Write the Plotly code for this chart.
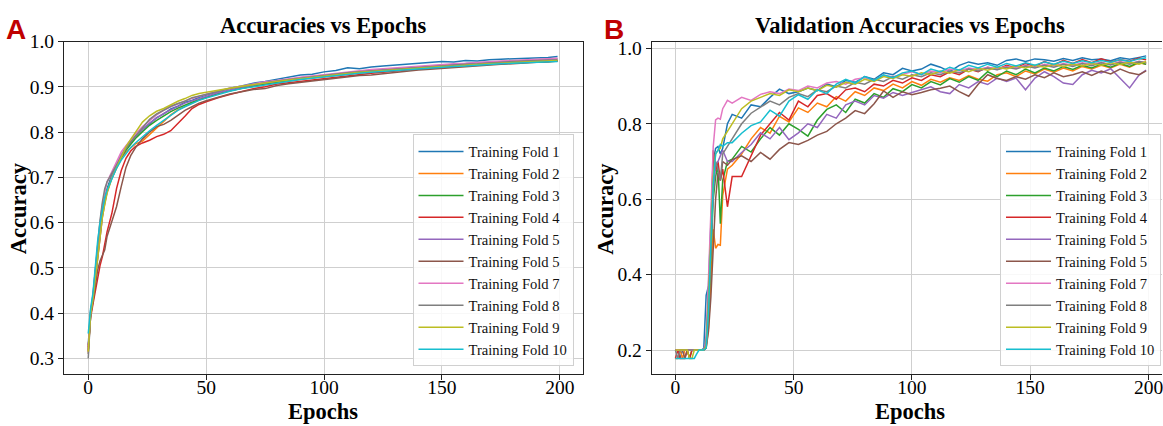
import plotly.graph_objects as go

# ---------------- data ----------------
train_epochs = [0, 1, 2, 3, 4, 5, 6, 7, 8, 10, 12, 14, 16, 18, 20, 23, 26, 29, 32, 35, 38, 41, 44, 47,
                50, 55, 60, 65, 70, 75, 80, 85, 90, 95, 100, 105, 110, 115, 120, 125, 130, 135, 140, 145,
                150, 155, 160, 165, 170, 175, 180, 185, 190, 195, 199]

train_fold1 = [.330, .405, .435, .490, .545, .590, .630, .655, .675, .705, .728, .748, .765, .776, .790,
               .806, .818, .832, .840, .851, .857, .866, .870, .877,
               .882, .889, .897, .902, .908, .912, .917, .921, .926, .928, .933, .936, .942, .940, .944,
               .946, .948, .949, .951, .953, .956, .955, .958, .957, .960, .961, .962, .962, .964, .965, .967]
train_fold2 = [.315, .398, .428, .478, .528, .575, .615, .645, .668, .698, .722, .742, .756, .766, .774,
               .780, .795, .810, .825, .838, .849, .857, .864, .871,
               .876, .885, .891, .897, .901, .906, .910, .913, .917, .920, .923, .926, .928, .931, .933,
               .935, .937, .939, .941, .942, .945, .946, .948, .949, .951, .952, .954, .955, .956, .957, .958]
train_fold3 = [.320, .402, .432, .482, .532, .582, .622, .652, .672, .700, .722, .744, .760, .774, .786,
               .801, .815, .826, .836, .845, .853, .860, .866, .872,
               .877, .885, .891, .897, .902, .906, .910, .914, .917, .920, .923, .926, .929, .931, .933,
               .935, .937, .939, .941, .943, .944, .946, .948, .949, .950, .952, .953, .954, .955, .956, .957]
train_fold4 = [.325, .390, .420, .450, .480, .505, .525, .555, .580, .620, .675, .715, .742, .758, .768,
               .776, .782, .790, .795, .803, .818, .835, .852, .861,
               .867, .876, .883, .890, .896, .900, .906, .909, .912, .916, .919, .922, .925, .928, .930,
               .932, .935, .937, .939, .941, .943, .945, .947, .948, .950, .951, .953, .954, .955, .957, .958]
train_fold5 = [.318, .400, .432, .480, .525, .570, .612, .642, .668, .702, .728, .750, .766, .780, .792,
               .806, .820, .831, .841, .849, .857, .864, .869, .874,
               .880, .887, .893, .899, .904, .909, .913, .917, .920, .923, .926, .929, .932, .934, .936,
               .938, .940, .942, .944, .946, .948, .950, .951, .953, .954, .956, .957, .958, .960, .961, .962]
train_fold6 = [.310, .395, .425, .460, .495, .515, .530, .540, .570, .605, .635, .680, .722, .748, .765,
               .785, .800, .812, .817, .826, .838, .848, .856, .864,
               .869, .877, .884, .889, .894, .896, .903, .907, .910, .913, .917, .920, .923, .925, .926,
               .929, .932, .935, .937, .939, .941, .943, .945, .946, .948, .950, .951, .953, .954, .955, .957]
train_fold7 = [.320, .405, .440, .495, .550, .600, .640, .668, .690, .712, .735, .756, .770, .784, .796,
               .812, .826, .838, .848, .856, .862, .869, .874, .879,
               .884, .891, .897, .902, .907, .911, .914, .918, .921, .924, .927, .930, .933, .936, .938,
               .940, .942, .944, .946, .947, .949, .951, .952, .954, .955, .957, .958, .959, .961, .962, .963]
train_fold8 = [.300, .395, .440, .500, .555, .605, .645, .675, .690, .708, .726, .745, .764, .778, .790,
               .808, .828, .840, .849, .857, .863, .868, .876, .880,
               .884, .890, .896, .900, .905, .909, .913, .916, .920, .922, .925, .928, .931, .933, .935,
               .937, .939, .941, .943, .945, .946, .948, .950, .951, .953, .954, .956, .957, .958, .959, .960]
train_fold9 = [.315, .398, .430, .478, .525, .575, .612, .640, .665, .698, .722, .745, .768, .784, .800,
               .822, .836, .846, .852, .860, .868, .874, .881, .885,
               .888, .892, .897, .901, .905, .909, .912, .915, .918, .921, .924, .927, .929, .932, .934,
               .936, .938, .940, .941, .943, .945, .946, .948, .949, .951, .952, .954, .955, .956, .957, .958]
train_fold10 = [.355, .410, .445, .505, .560, .600, .632, .655, .672, .698, .720, .738, .752, .766, .776,
                .790, .803, .815, .826, .838, .848, .856, .863, .870,
                .875, .883, .890, .896, .900, .905, .909, .913, .916, .919, .922, .925, .927, .930, .932,
                .934, .936, .938, .940, .941, .943, .945, .946, .948, .949, .951, .952, .953, .954, .955, .956]

val_epochs = [0, 1, 2, 3, 4, 5, 6, 7, 8, 9, 10, 11, 12, 13, 14, 15, 16, 17, 18, 19, 20, 22,
              24, 28, 32, 36, 40, 44, 48, 52, 56, 60, 64, 68, 72, 76, 80, 84, 88, 92, 96, 100, 104, 108,
              112, 116, 120, 124, 128, 132, 136, 140, 144, 148, 152, 156, 160, 164, 168, 172, 176, 180,
              184, 188, 192, 196, 199]

val_fold1 = [.200, .200, .178, .200, .200, .200, .200, .200, .200, .200, .200, .200, .205, .345, .370,
             .560, .700, .735, .740, .720, .735, .800,
             .825, .815, .850, .845, .870, .892, .880, .885, .895, .888, .905, .898, .915, .910, .925,
             .918, .935, .930, .947, .940, .945, .958, .950, .938, .955, .964, .958, .962, .955, .968,
             .972, .965, .972, .970, .966, .973, .968, .975, .970, .972, .967, .975, .971, .976, .980]
val_fold2 = [.178, .178, .200, .178, .200, .200, .200, .200, .200, .200, .200, .200, .200, .205, .260,
             .380, .520, .470, .480, .478, .610, .680,
             .690, .720, .760, .790, .775, .820, .805, .842, .830, .855, .845, .872, .860, .885, .875,
             .895, .888, .905, .895, .912, .902, .918, .910, .922, .915, .928, .918, .913, .930, .935,
             .925, .940, .932, .945, .937, .948, .940, .952, .945, .955, .948, .958, .950, .962, .958]
val_fold3 = [.200, .200, .200, .200, .200, .200, .178, .200, .200, .200, .200, .200, .200, .210, .300,
             .450, .600, .660, .690, .535, .650, .700,
             .706, .740, .725, .760, .790, .770, .800, .785, .767, .810, .838, .850, .830, .865, .855,
             .880, .870, .893, .885, .904, .895, .912, .903, .920, .910, .925, .915, .938, .925, .940,
             .930, .945, .935, .948, .940, .952, .944, .955, .948, .958, .950, .960, .952, .963, .958]
val_fold4 = [.178, .200, .178, .178, .178, .200, .178, .200, .200, .200, .200, .200, .200, .210, .320,
             .480, .730, .676, .700, .650, .680, .580,
             .660, .660, .715, .770, .800, .830, .810, .860, .845, .875, .880, .865, .890, .895, .885,
             .905, .900, .915, .908, .922, .915, .930, .925, .938, .930, .945, .938, .950, .944, .955,
             .948, .960, .952, .965, .956, .968, .960, .970, .962, .972, .964, .970, .966, .974, .970]
val_fold5 = [.200, .200, .200, .200, .200, .200, .200, .200, .200, .200, .200, .200, .200, .230, .350,
             .500, .620, .690, .700, .715, .730, .700,
             .700, .724, .745, .776, .760, .790, .758, .776, .800, .790, .825, .815, .850, .860, .850,
             .875, .868, .883, .875, .883, .890, .898, .885, .880, .904, .895, .912, .904, .921, .912,
             .921, .890, .921, .938, .925, .908, .904, .930, .942, .935, .946, .921, .895, .929, .942]
val_fold6 = [.200, .200, .200, .200, .178, .200, .200, .200, .200, .200, .200, .200, .200, .205, .250,
             .340, .470, .600, .670, .650, .700, .690,
             .705, .715, .700, .724, .706, .732, .750, .745, .756, .770, .780, .800, .815, .835, .827,
             .853, .887, .870, .885, .877, .883, .890, .894, .900, .885, .873, .905, .930, .920, .915,
             .925, .918, .930, .922, .935, .925, .930, .938, .928, .940, .932, .945, .935, .930, .940]
val_fold7 = [.200, .200, .200, .200, .200, .200, .200, .200, .200, .200, .200, .200, .200, .220, .380,
             .560, .740, .810, .815, .812, .840, .862,
             .855, .870, .862, .878, .885, .880, .892, .888, .900, .895, .908, .912, .905, .918, .922,
             .915, .928, .925, .932, .938, .930, .940, .935, .945, .940, .948, .944, .950, .946, .952,
             .948, .955, .950, .958, .953, .960, .955, .962, .958, .963, .957, .965, .960, .966, .962]
val_fold8 = [.200, .178, .200, .200, .200, .200, .200, .200, .200, .200, .200, .200, .200, .215, .330,
             .480, .640, .700, .680, .650, .720, .740,
             .760, .800, .828, .845, .860, .850, .870, .880, .872, .890, .885, .900, .895, .910, .905,
             .918, .912, .925, .918, .930, .925, .935, .930, .940, .935, .945, .940, .948, .943, .950,
             .945, .953, .948, .955, .950, .958, .952, .960, .954, .962, .956, .963, .958, .965, .962]
val_fold9 = [.200, .200, .200, .200, .200, .200, .178, .178, .200, .200, .200, .200, .200, .210, .320,
             .500, .660, .720, .730, .735, .760, .780,
             .800, .840, .860, .870, .880, .875, .890, .885, .895, .888, .902, .897, .910, .905, .918,
             .912, .925, .920, .930, .926, .935, .930, .940, .934, .944, .938, .947, .942, .950, .945,
             .953, .948, .955, .950, .957, .952, .958, .954, .960, .955, .962, .957, .963, .958, .965]
val_fold10 = [.178, .178, .178, .178, .178, .178, .178, .178, .178, .190, .200, .200, .200, .205, .300,
              .480, .640, .720, .730, .745, .740, .750,
              .750, .775, .795, .805, .836, .820, .860, .877, .865, .890, .880, .905, .918, .908, .925,
              .915, .930, .922, .935, .940, .930, .945, .938, .950, .942, .955, .948, .958, .950, .960,
              .953, .962, .955, .964, .958, .966, .960, .967, .962, .968, .963, .970, .965, .972, .975]

fold_labels = ["Training Fold 1", "Training Fold 2", "Training Fold 3", "Training Fold 4",
               "Training Fold 5", "Training Fold 5", "Training Fold 7", "Training Fold 8",
               "Training Fold 9", "Training Fold 10"]

x_ticks = [0, 50, 100, 150, 200]

train_series = [train_fold1, train_fold2, train_fold3, train_fold4, train_fold5,
                train_fold6, train_fold7, train_fold8, train_fold9, train_fold10]
val_series = [val_fold1, val_fold2, val_fold3, val_fold4, val_fold5,
              val_fold6, val_fold7, val_fold8, val_fold9, val_fold10]

for s in train_series:
    assert len(s) == len(train_epochs), len(s)
for s in val_series:
    assert len(s) == len(val_epochs), len(s)

# ---------------- style ----------------
colors = ["#1f77b4", "#ff7f0e", "#2ca02c", "#d62728", "#9467bd",
          "#8c564b", "#e377c2", "#7f7f7f", "#bcbd22", "#17becf"]
SERIF = "Liberation Serif"
W, H = 1163, 426

fig = go.Figure()
for i in range(10):
    fig.add_trace(go.Scatter(x=train_epochs, y=train_series[i], mode="lines",
                             line=dict(color=colors[i], width=1.5), name=fold_labels[i],
                             xaxis="x", yaxis="y", legend="legend"))
for i in range(10):
    fig.add_trace(go.Scatter(x=val_epochs, y=val_series[i], mode="lines",
                             line=dict(color=colors[i], width=1.5), name=fold_labels[i],
                             xaxis="x2", yaxis="y2", legend="legend2"))

grid = "#cfcfcf"
tickfont = dict(family=SERIF, size=19.5, color="black")
common = dict(showgrid=True, gridcolor=grid, gridwidth=1, showline=True, linecolor="#222",
              linewidth=1, ticks="outside", ticklen=5, tickcolor="#222", tickfont=tickfont,
              zeroline=False, ticklabeloverflow="allow")

ytop = 1 - 32.3 / H
ybot = 1 - 373 / H

legend_common = dict(font=dict(family=SERIF, size=14.6, color="#111"),
                     bgcolor="rgba(255,255,255,0.85)", bordercolor="#d0d0d0", borderwidth=1,
                     xanchor="right", yanchor="bottom", itemwidth=45, tracegroupgap=0)

fig.update_layout(
    width=W, height=H, margin=dict(l=0, r=0, t=0, b=0),
    paper_bgcolor="white", plot_bgcolor="white", showlegend=True,
    xaxis=dict(domain=[64 / W, 584 / W], range=[-10.3, 210], tickvals=x_ticks, mirror=True,
               anchor="y", ticklabelstandoff=-10, **common),
    yaxis=dict(domain=[ybot, ytop], range=[0.265, 1.0], tick0=0.3, dtick=0.1, tickformat=".1f",
               mirror=True, anchor="x", **common),
    xaxis2=dict(domain=[652.3 / W, 1.0], range=[-10, 205.7], tickvals=x_ticks, mirror=True,
                anchor="y2", ticklabelstandoff=-10, **common),
    yaxis2=dict(domain=[ybot, ytop], range=[0.136, 1.018], tick0=0.2, dtick=0.2, tickformat=".1f",
                mirror=False, anchor="x2", **common),
    legend=dict(x=574 / W, y=(H - 365) / H, **legend_common),
    legend2=dict(x=1162 / W, y=(H - 365) / H, **legend_common),
)

ann = []
# panel titles
ann.append(dict(text="<b>Accuracies vs Epochs</b>", x=323.5 / W, y=1 - 16 / H, xref="paper", yref="paper",
                showarrow=False, xanchor="center", yanchor="middle",
                font=dict(family=SERIF, size=22.5, color="black")))
ann.append(dict(text="<b>Validation Accuracies vs Epochs</b>", x=911 / W, y=1 - 16 / H, xref="paper",
                yref="paper", showarrow=False, xanchor="center", yanchor="middle",
                font=dict(family=SERIF, size=22.5, color="black")))
# panel letters
for letter, px in (("A", 16.5), ("B", 614.5)):
    ann.append(dict(text="<b>%s</b>" % letter, x=px / W, y=1 - 20 / H, xref="paper", yref="paper",
                    showarrow=False, xanchor="center", yanchor="middle",
                    font=dict(family="Liberation Sans", size=28, color="#c00000")))
# axis labels
for px in (18, 606):
    ann.append(dict(text="<b>Accuracy</b>", x=px / W, y=1 - 203 / H, xref="paper", yref="paper",
                    showarrow=False, xanchor="center", yanchor="middle", textangle=-90,
                    font=dict(family=SERIF, size=22.5, color="black")))
for px in (323.5, 911):
    ann.append(dict(text="<b>Epochs</b>", x=px / W, y=1 - 411 / H, xref="paper", yref="paper",
                    showarrow=False, xanchor="center", yanchor="middle",
                    font=dict(family=SERIF, size=22.5, color="black")))
fig.update_layout(annotations=ann)

fig.write_html("out.html", config={"displayModeBar": False},
               post_script="document.body.style.margin='0';document.body.style.overflow='hidden';")
